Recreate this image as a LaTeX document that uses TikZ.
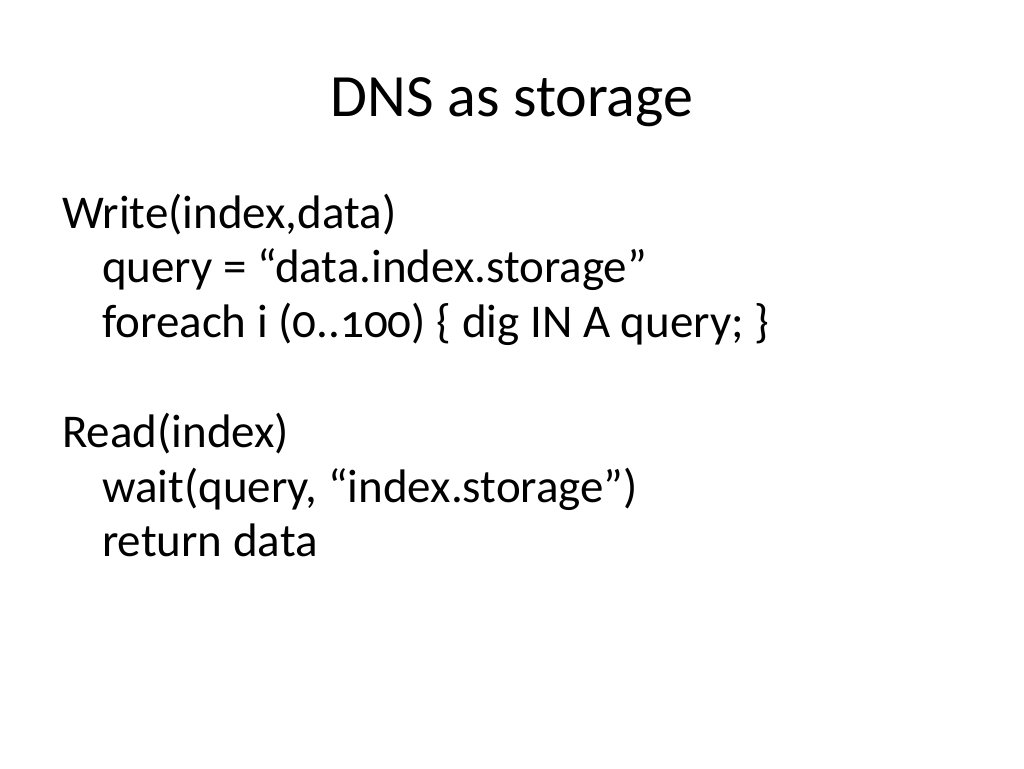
\documentclass[tikz,border=0pt]{standalone}
\usepackage{fontspec}
\setmainfont{Carlito}[Numbers=OldStyle]
\begin{document}
\begin{tikzpicture}[x=1pt,y=-1pt,
  body/.style={anchor=base west,inner sep=0,font=\fontsize{47}{56}\selectfont}]
\useasboundingbox[fill=white] (0,0) rectangle (1024,768);
\node[anchor=base,inner sep=0,font=\fontsize{60}{70}\selectfont] (title) at (512,116) {DNS as storage};
\node[body] (w) at (62,228) {Write(index,data)};
\node[body] (q) at (102,282) {query = “data.index.storage”};
\node[body] (f) at (102,337) {foreach i (0..100) \{ dig IN A query; \}};
\node[body] (r) at (62,447) {Read(index)};
\node[body] (wt) at (102,502) {wait(query, “index.storage”)};
\node[body] (ret) at (102,556) {return data};
\end{tikzpicture}
\end{document}
